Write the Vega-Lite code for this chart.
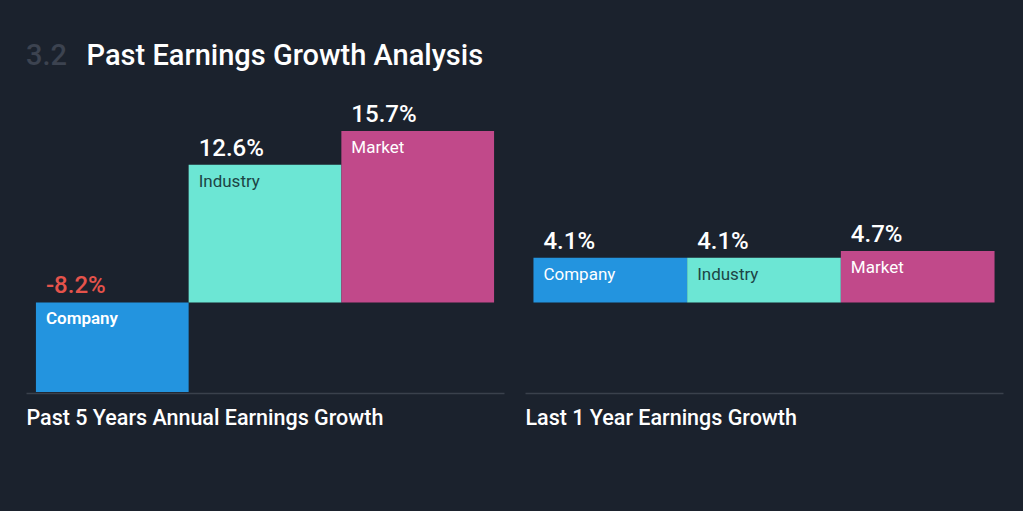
{
  "$schema": "https://vega.github.io/schema/vega-lite/v6.json",
  "background": "#1b222d",
  "padding": {"left": 26, "top": 42, "right": 20, "bottom": 82},
  "title": {
    "text": "3.2",
    "subtitle": "\u200b\u00a0\u00a0\u00a0\u00a0\u00a0\u00a0\u00a0\u00a0\u200aPast Earnings Growth Analysis",
    "anchor": "start",
    "frame": "group",
    "color": "#3c4350",
    "fontSize": 29,
    "fontWeight": 500,
    "font": "Roboto",
    "subtitleColor": "#ffffff",
    "subtitleFontSize": 29,
    "subtitleFontWeight": 500,
    "subtitleFont": "Roboto",
    "subtitlePadding": -29,
    "offset": 24
  },
  "data": {
    "values": [
      {"period": "5y", "cat": "Company", "value": -8.2, "label": "-8.2%"},
      {"period": "5y", "cat": "Industry", "value": 12.6, "label": "12.6%"},
      {"period": "5y", "cat": "Market", "value": 15.7, "label": "15.7%"},
      {"period": "1y", "cat": "Company", "value": 4.1, "label": "4.1%"},
      {"period": "1y", "cat": "Industry", "value": 4.1, "label": "4.1%"},
      {"period": "1y", "cat": "Market", "value": 4.7, "label": "4.7%"}
    ]
  },
  "spacing": 21,
  "hconcat": [
    {
      "width": 478,
      "height": 298,
      "transform": [{"filter": "datum.period === '5y'"}],
      "encoding": {
        "x": {"field": "cat", "type": "nominal", "sort": ["Company", "Industry", "Market"],
          "scale": {"paddingInner": 0, "paddingOuter": 0.065},
          "axis": {"title": "Past 5 Years Annual Earnings Growth", "labels": false, "ticks": false, "domainColor": "#3a414c", "domainWidth": 1.5, "titleAnchor": "start", "titleAlign": "left", "titleColor": "#ffffff", "titleFont": "Roboto", "titleFontSize": 21.5, "titleFontWeight": 500, "titlePadding": 14, "titleBaseline": "top"}}
      },
      "layer": [
        {
          "mark": {"type": "bar"},
          "encoding": {
            "y": {"field": "value", "type": "quantitative", "scale": {"domain": [-8.3, 19], "nice": false, "zero": true}, "axis": null},
            "color": {"field": "cat", "type": "nominal", "scale": {"domain": ["Company", "Industry", "Market"], "range": ["#2394df", "#6ce6d4", "#c1498a"]}, "legend": null}
          }
        },
        {
          "mark": {"type": "rule", "color": "#ffffff", "strokeWidth": 2},
          "encoding": {"y": {"datum": 0, "type": "quantitative"}}
        },
        {
          "transform": [{"filter": "datum.value >= 0"}],
          "mark": {"type": "text", "align": "left", "baseline": "alphabetic", "dx": 10, "dy": -9, "font": "Roboto", "fontSize": 24, "fontWeight": 500, "color": "#ffffff"},
          "encoding": {
            "x": {"field": "cat", "type": "nominal", "sort": ["Company", "Industry", "Market"], "bandPosition": 0},
            "y": {"field": "value", "type": "quantitative"},
            "text": {"field": "label"}
          }
        },
        {
          "transform": [{"filter": "datum.value < 0"}],
          "mark": {"type": "text", "align": "left", "baseline": "alphabetic", "dx": 10, "dy": -9, "font": "Roboto", "fontSize": 24, "fontWeight": 500, "color": "#e5534b"},
          "encoding": {
            "x": {"field": "cat", "type": "nominal", "sort": ["Company", "Industry", "Market"], "bandPosition": 0},
            "y": {"datum": 0, "type": "quantitative"},
            "text": {"field": "label"}
          }
        },
        {
          "transform": [{"filter": "datum.value >= 0"}],
          "mark": {"type": "text", "align": "left", "baseline": "top", "dx": 10, "dy": 9, "font": "Roboto", "fontSize": 17},
          "encoding": {
            "x": {"field": "cat", "type": "nominal", "sort": ["Company", "Industry", "Market"], "bandPosition": 0},
            "y": {"field": "value", "type": "quantitative"},
            "text": {"field": "cat"},
            "color": {"condition": {"test": "datum.cat === 'Industry'", "value": "#1d4444"}, "value": "#ffffff"},
            "fontWeight": {"condition": {"test": "datum.cat === 'Industry'", "value": 400}, "value": 600}
          }
        },
        {
          "transform": [{"filter": "datum.value < 0"}],
          "mark": {"type": "text", "align": "left", "baseline": "top", "dx": 10, "dy": 9, "font": "Roboto", "fontSize": 17, "fontWeight": 600, "color": "#ffffff"},
          "encoding": {
            "x": {"field": "cat", "type": "nominal", "sort": ["Company", "Industry", "Market"], "bandPosition": 0},
            "y": {"datum": 0, "type": "quantitative"},
            "text": {"field": "cat"}
          }
        }
      ]
    },
    {
      "width": 478,
      "height": 298,
      "transform": [{"filter": "datum.period === '1y'"}],
      "encoding": {
        "x": {"field": "cat", "type": "nominal", "sort": ["Company", "Industry", "Market"],
          "scale": {"paddingInner": 0, "paddingOuter": 0.055},
          "axis": {"title": "Last 1 Year Earnings Growth", "labels": false, "ticks": false, "domainColor": "#3a414c", "domainWidth": 1.5, "titleAnchor": "start", "titleAlign": "left", "titleColor": "#ffffff", "titleFont": "Roboto", "titleFontSize": 21.5, "titleFontWeight": 500, "titlePadding": 14, "titleBaseline": "top"}}
      },
      "layer": [
        {
          "mark": {"type": "bar"},
          "encoding": {
            "y": {"field": "value", "type": "quantitative", "scale": {"domain": [-8.3, 19], "nice": false, "zero": true}, "axis": null},
            "color": {"field": "cat", "type": "nominal", "scale": {"domain": ["Company", "Industry", "Market"], "range": ["#2394df", "#6ce6d4", "#c1498a"]}, "legend": null}
          }
        },
        {
          "mark": {"type": "rule", "color": "#ffffff", "strokeWidth": 2},
          "encoding": {"y": {"datum": 0, "type": "quantitative"}}
        },
        {
          "mark": {"type": "text", "align": "left", "baseline": "alphabetic", "dx": 10, "dy": -9, "font": "Roboto", "fontSize": 24, "fontWeight": 500, "color": "#ffffff"},
          "encoding": {
            "x": {"field": "cat", "type": "nominal", "sort": ["Company", "Industry", "Market"], "bandPosition": 0},
            "y": {"field": "value", "type": "quantitative"},
            "text": {"field": "label"}
          }
        },
        {
          "mark": {"type": "text", "align": "left", "baseline": "top", "dx": 10, "dy": 9, "font": "Roboto", "fontSize": 17},
          "encoding": {
            "x": {"field": "cat", "type": "nominal", "sort": ["Company", "Industry", "Market"], "bandPosition": 0},
            "y": {"field": "value", "type": "quantitative"},
            "text": {"field": "cat"},
            "color": {"condition": {"test": "datum.cat === 'Industry'", "value": "#1d4444"}, "value": "#ffffff"},
            "fontWeight": {"condition": {"test": "datum.cat === 'Industry'", "value": 400}, "value": 600}
          }
        }
      ]
    }
  ],
  "config": {
    "view": {"stroke": null},
    "axis": {"grid": false}
  }
}
